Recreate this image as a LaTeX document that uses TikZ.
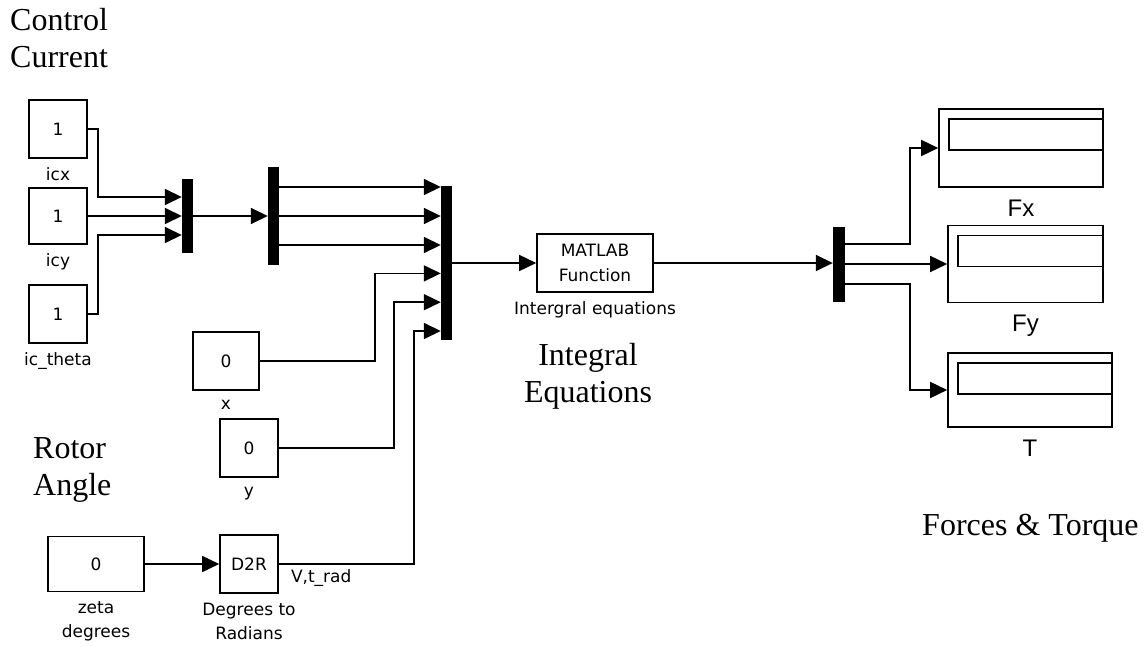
\documentclass[tikz,border=0pt]{standalone}
\usepackage{fontspec}
\setmainfont{Liberation Serif}
\newfontfamily\simfont{DejaVu Sans}
\newfontfamily\scopefont{Liberation Sans}
\usepackage{tikz}
\usetikzlibrary{arrows.meta, positioning, calc}
\tikzset{
  blk/.style={rectangle, draw, line width=1.6pt, inner sep=0pt, align=center,
              font=\simfont\fontsize{17}{25}\selectfont},
  const/.style={blk, minimum width=58pt, minimum height=58pt},
  bar/.style={rectangle, fill=black, inner sep=0pt, minimum width=11pt},
  scopeblk/.style={blk, path picture={\draw[line width=1.6pt]
      ([shift={(10,10)}]path picture bounding box.north west) rectangle
      ([shift={(0,41)}]path picture bounding box.north east);}},
  lbl/.style={font=\simfont\fontsize{17}{24}\selectfont, inner sep=0pt, align=center},
  bigl/.style={font=\scopefont\fontsize{24}{28}\selectfont, inner sep=0pt,
               text height=18pt, text depth=5pt},
  note/.style={font=\fontsize{32}{37}\selectfont, inner sep=0pt, align=left},
  sig/.style={-{Triangle[length=17pt, width=16pt]}, line width=1.6pt},
}
\begin{document}
\begin{tikzpicture}[x=1pt, y=-1pt,
  below lbl/.style={label={[lbl, label distance=9pt]below:{#1}}},
  below big/.style={label={[bigl, label distance=10pt]below:{#1}}}
]
  \useasboundingbox (0,0) rectangle (1148,647);
  \node[const, below lbl=icx] (icx) at (58,129) {1};
  \node[const, minimum height=56pt, below lbl=icy] (icy) at (58,216) {1};
  \node[const, below lbl=ic\_theta] (ictheta) at (58,314) {1};
  \node[const, minimum width=66pt, below lbl=x] (xpos) at (226,361) {0};
  \node[const, below lbl=y] (ypos) at (249,448) {0};
  \node[const, minimum width=96pt, minimum height=55pt, below lbl={zeta\\degrees}] (zeta) at (96,564) {0};
  \node[const, below lbl={Degrees to\\Radians}] (d2r) at (249,564) {D2R};
  \node[blk, minimum width=116pt, minimum height=58pt, below lbl={Intergral equations}] (fcn) at (595,263) {MATLAB\\Function};
  \node[lbl, anchor=base west] (vtrad) at ([shift={(12,18)}]d2r.east) {V,t\_rad};

  \node[bar, minimum height=74pt] (mux1) at (187.5,216) {};
  \node[bar, minimum height=98pt] (demux1) at (273.5,216) {};
  \node[bar, minimum height=154pt] (mux2) at (446.5,263) {};
  \node[bar, minimum width=12pt, minimum height=75pt] (demux2) at (839,264) {};

  \node[scopeblk, minimum width=164pt, minimum height=78pt, below big=Fx] (fx) at (1021,148) {};
  \node[scopeblk, minimum width=155pt, minimum height=77pt, below big=Fy] (fy) at (1025.5,264) {};
  \node[scopeblk, minimum width=164pt, minimum height=74pt, below big=T] (torque) at (1030,390) {};

  \foreach \i/\d in {1/-19,2/0,3/19} \coordinate (mux1-in\i) at ([shift={(0,\d)}]mux1.west);
  \foreach \i in {1,2,3} \coordinate (demux1-out\i) at ([shift={(0,29*\i-58)}]demux1.east);
  \foreach \i in {1,...,6} \coordinate (mux2-in\i) at ([shift={(0,28.8*\i-104.8)}]mux2.west);
  \foreach \i/\d in {1/-20,2/0,3/20} \coordinate (demux2-out\i) at ([shift={(0,\d)}]demux2.east);

  \draw[sig] (icx.east) -- ++(10,0) |- (mux1-in1);
  \draw[sig] (icy.east) -- (mux1-in2);
  \draw[sig] (ictheta.east) -- ++(10,0) |- (mux1-in3);
  \draw[sig] (mux1.east) -- (demux1.west);
  \foreach \i in {1,2,3} \draw[sig] (demux1-out\i) -- (demux1-out\i -| mux2.west);
  \draw[sig] (xpos.east) -- ++(115,0) |- (mux2-in4);
  \draw[sig] (ypos.east) -- ++(115,0) |- (mux2-in5);
  \draw[sig] (d2r.east) -- ++(135,0) |- (mux2-in6);
  \draw[sig] (zeta.east) -- (d2r.west);
  \draw[sig] (mux2.east |- fcn.west) -- (fcn.west);
  \draw[sig] (fcn.east) -- (demux2.west |- fcn.east);
  \draw[sig] (demux2-out1) -- ++(65,0) |- (fx.west);
  \draw[sig] (demux2-out2) -- (fy.west);
  \draw[sig] (demux2-out3) -- ++(65,0) |- (torque.west);

  \node[note, anchor=base west] (ctrl) at (10,68) {Control\\Current};
  \node[note, anchor=base west] (rotor) at (33,495) {Rotor\\Angle};
  \node[note, anchor=base, align=center] (inteq) at (588,402) {Integral\\Equations};
  \node[note, anchor=base west] (forces) at (922,535) {Forces \& Torque};
\end{tikzpicture}
\end{document}
